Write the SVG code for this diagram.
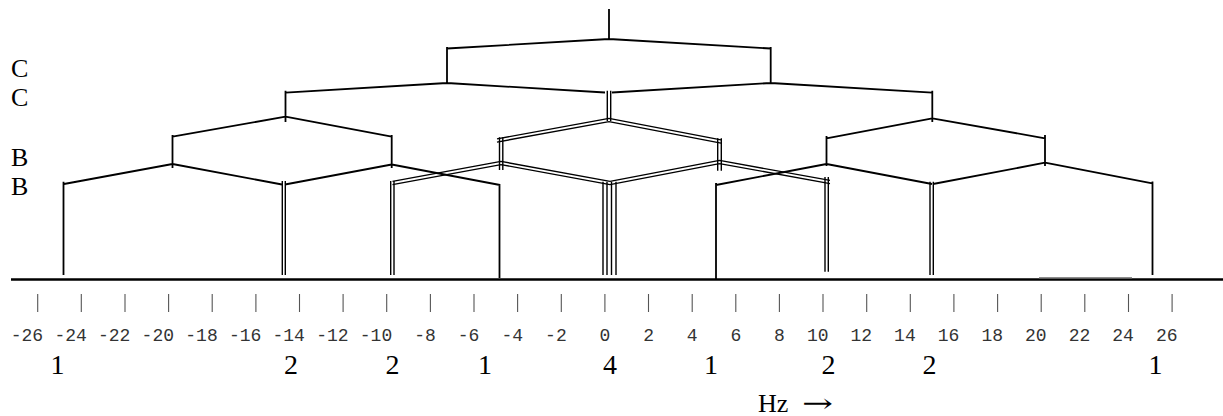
<svg xmlns="http://www.w3.org/2000/svg" width="1223" height="416" viewBox="0 0 1223 416">
<style>
.ln{stroke:#000;stroke-width:1.8;fill:none;stroke-linecap:butt}
.dl{stroke:#000;stroke-width:1.4;fill:none;stroke-linecap:butt}
.base{stroke:#000;stroke-width:2.4;fill:none}
.tk{stroke:#555;stroke-width:1.1}
.ax{font-family:"Liberation Mono","Courier New",monospace;font-size:18px;fill:#333;text-anchor:end}
.big{font-family:"Liberation Serif","Times New Roman",serif;font-size:28px;fill:#000;text-anchor:middle}
.lab{font-family:"Liberation Serif","Times New Roman",serif;font-size:26px;fill:#000}
</style>
<rect width="1223" height="416" fill="#fff"/>
<g id="labels-left">
<text class="lab" x="11" y="77">C</text>
<text class="lab" x="11" y="106">C</text>
<text class="lab" x="11" y="166">B</text>
<text class="lab" x="11" y="195">B</text>
</g>
<g id="connectors">
<path class="ln" d="M609,9V40 M609,39L447,48.5 M609,39L770.7,48.5 M447,47V84 M770.7,47V84
M447,83L285.5,92.7 M447,83L605,92.5 M770.7,83L612,92.5 M770.7,83L932.3,92.7
M285.5,90.7V122 M932.3,90.7V122
M285.5,116.7L172.5,136.7 M285.5,116.7L391.7,136.7 M932.3,118.3L826.5,138.3 M932.3,118.3L1045,138.3
M172.5,135V168 M391.7,135V168 M826.5,136V166 M1045,135V166
M172.5,164L64,184 M172.5,164L282,184.5 M391.7,164.5L285,184.5 M391.7,164.5L500,185
M826.5,164L716,185 M826.5,164L932,184 M1045,162.7L933,184 M1045,162.7L1152.3,183.3
M63.5,181.7V275 M499.5,184V278 M716,183V279 M1152.5,181.5V275"/>
<path class="dl" d="M607.3,90.7V121 M610.7,90.7V121
M499.5,137.3V170 M502.8,137.3V170 M717.7,138.3V170.7 M721.3,138.3V170.7
M282.3,181V275 M285.3,181V275 M390.7,181V275 M394,181V275
M825,177V271.7 M828.3,177V271.7 M930,181.7V275 M933.3,181.7V275
M603,181.7V275 M607,181.7V275 M611.5,181.7V275 M616,181.7V275"/>
<path class="dl" d="M609,118.4L497,138.9 M609,121.6L497,142.1
M609,118.4L721,139.9 M609,121.6L721,143.1
M501,161.4L392.5,181.4 M501,164.6L392.5,184.6
M501,161.4L610,181.4 M501,164.6L610,184.6
M719.5,160.4L610,181.4 M719.5,163.6L610,184.6
M719.5,160.4L830,180.4 M719.5,163.6L830,183.6"/>
</g>
<g id="axis">
<line class="base" x1="11" y1="279.5" x2="1223" y2="279.5"/>
<line x1="1039" y1="278" x2="1132" y2="278" stroke="#666" stroke-width="1.5"/>
<g id="ticks">
<line class="tk" x1="37.7" y1="294" x2="37.7" y2="312"/>
<line class="tk" x1="81.3" y1="294" x2="81.3" y2="312"/>
<line class="tk" x1="125" y1="294" x2="125" y2="312"/>
<line class="tk" x1="168.6" y1="294" x2="168.6" y2="312"/>
<line class="tk" x1="212.2" y1="294" x2="212.2" y2="312"/>
<line class="tk" x1="255.9" y1="294" x2="255.9" y2="312"/>
<line class="tk" x1="299.5" y1="294" x2="299.5" y2="312"/>
<line class="tk" x1="343.1" y1="294" x2="343.1" y2="312"/>
<line class="tk" x1="386.7" y1="294" x2="386.7" y2="312"/>
<line class="tk" x1="430.4" y1="294" x2="430.4" y2="312"/>
<line class="tk" x1="474" y1="294" x2="474" y2="312"/>
<line class="tk" x1="517.6" y1="294" x2="517.6" y2="312"/>
<line class="tk" x1="561.3" y1="294" x2="561.3" y2="312"/>
<line class="tk" x1="604.9" y1="294" x2="604.9" y2="312"/>
<line class="tk" x1="648.5" y1="294" x2="648.5" y2="312"/>
<line class="tk" x1="692.2" y1="294" x2="692.2" y2="312"/>
<line class="tk" x1="735.8" y1="294" x2="735.8" y2="312"/>
<line class="tk" x1="779.4" y1="294" x2="779.4" y2="312"/>
<line class="tk" x1="823" y1="294" x2="823" y2="312"/>
<line class="tk" x1="866.7" y1="294" x2="866.7" y2="312"/>
<line class="tk" x1="910.3" y1="294" x2="910.3" y2="312"/>
<line class="tk" x1="953.9" y1="294" x2="953.9" y2="312"/>
<line class="tk" x1="997.6" y1="294" x2="997.6" y2="312"/>
<line class="tk" x1="1041.2" y1="294" x2="1041.2" y2="312"/>
<line class="tk" x1="1084.8" y1="294" x2="1084.8" y2="312"/>
<line class="tk" x1="1128.5" y1="294" x2="1128.5" y2="312"/>
<line class="tk" x1="1172.1" y1="294" x2="1172.1" y2="312"/>
</g>
<g id="tick-labels">
<text class="ax" x="43.1" y="340.5">-26</text>
<text class="ax" x="86.8" y="340.5">-24</text>
<text class="ax" x="130.4" y="340.5">-22</text>
<text class="ax" x="174" y="340.5">-20</text>
<text class="ax" x="217.7" y="340.5">-18</text>
<text class="ax" x="261.3" y="340.5">-16</text>
<text class="ax" x="304.9" y="340.5">-14</text>
<text class="ax" x="348.6" y="340.5">-12</text>
<text class="ax" x="392.2" y="340.5">-10</text>
<text class="ax" x="435.8" y="340.5">-8</text>
<text class="ax" x="479.4" y="340.5">-6</text>
<text class="ax" x="523.1" y="340.5">-4</text>
<text class="ax" x="566.7" y="340.5">-2</text>
<text class="ax" x="610.3" y="340.5">0</text>
<text class="ax" x="654" y="340.5">2</text>
<text class="ax" x="697.6" y="340.5">4</text>
<text class="ax" x="741.2" y="340.5">6</text>
<text class="ax" x="784.9" y="340.5">8</text>
<text class="ax" x="828.5" y="340.5">10</text>
<text class="ax" x="872.1" y="340.5">12</text>
<text class="ax" x="915.7" y="340.5">14</text>
<text class="ax" x="959.4" y="340.5">16</text>
<text class="ax" x="1003" y="340.5">18</text>
<text class="ax" x="1046.6" y="340.5">20</text>
<text class="ax" x="1090.3" y="340.5">22</text>
<text class="ax" x="1133.9" y="340.5">24</text>
<text class="ax" x="1177.5" y="340.5">26</text>
</g>
</g>
<g id="intensities">
<text class="big" x="57.5" y="374">1</text>
<text class="big" x="291" y="374">2</text>
<text class="big" x="392.5" y="374">2</text>
<text class="big" x="485" y="374">1</text>
<text class="big" x="610" y="374">4</text>
<text class="big" x="711" y="374">1</text>
<text class="big" x="828.5" y="374">2</text>
<text class="big" x="929.5" y="374">2</text>
<text class="big" x="1155.5" y="374">1</text>
</g>
<g id="unit">
<text class="lab" x="758" y="412" font-size="30">Hz <tspan x="802" font-family="'DejaVu Serif',serif" textLength="31" lengthAdjust="spacingAndGlyphs">→</tspan></text>
</g>
</svg>
